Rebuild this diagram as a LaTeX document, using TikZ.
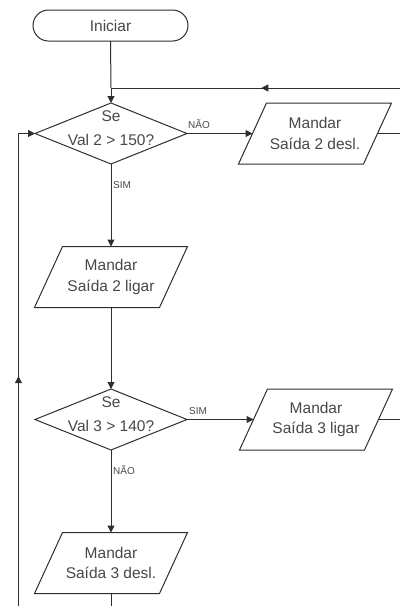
\documentclass[tikz,border=0pt]{standalone}
\usepackage{fontspec}
\setmainfont{Liberation Sans}
\usetikzlibrary{shapes.geometric,arrows.meta,decorations.markings,calc}
\definecolor{linec}{HTML}{2E2E2E}
\definecolor{textc}{HTML}{474747}
\newcommand\ioshape[4]{%
  \node[txt] (#1) at (#2,#3) {#4};
  \draw[plain] ($(#1)+(-48.5,-30.5)$) -- ($(#1)+(76.5,-30.5)$) -- ($(#1)+(48.5,30.5)$) -- ($(#1)+(-76.5,30.5)$) -- cycle;
  \coordinate (#1-w) at ($(#1)+(-62.5,0)$);
  \coordinate (#1-e) at ($(#1)+(62.5,0)$);
  \coordinate (#1-n) at ($(#1)+(0,-30.5)$);
  \coordinate (#1-s) at ($(#1)+(0,30.5)$);
}
\begin{document}
\begin{tikzpicture}[x=1pt,y=-1pt,
  line width=1pt,
  every node/.style={text=textc},
  tip/.tip={Triangle[length=7pt,width=7pt]},
  conn/.style={draw=linec,-tip},
  plain/.style={draw=linec},
  term/.style={draw=linec,rounded corners=15.5pt,minimum width=155pt,minimum height=31pt,inner sep=0,outer sep=0,font=\fontsize{15.5}{18}\selectfont},
  decis/.style={draw=linec,diamond,minimum width=152pt,minimum height=61pt,inner sep=0,outer sep=0},
  txt/.style={align=center,font=\fontsize{15.5}{20.5}\selectfont},
  dtxt/.style={align=center,font=\fontsize{15.5}{24}\selectfont},
  lbl/.style={font=\fontsize{10}{12}\selectfont,inner sep=0},
  midarrow/.style={postaction={decorate},decoration={markings,mark=at position #1 with {\arrow{tip}}}}
]
\useasboundingbox (0,0) rectangle (400,606);
% shapes
\node[term] (start) at (110.5,25.5) {Iniciar};
\node[decis] (d1) at (111,133.5) {};
\node[dtxt] (d1t) at (111,128.5) {Se\\Val 2 > 150?};
\ioshape{p1}{315}{133.5}{Mandar\\Saída 2 desl.}
\ioshape{p2}{111}{277}{Mandar\\Saída 2 ligar}
\node[decis] (d2) at (111,419.5) {};
\node[dtxt] (d2t) at (111,414.5) {Se\\Val 3 > 140?};
\ioshape{p3}{316}{419.5}{Mandar\\Saída 3 ligar}
\ioshape{p4}{111}{563}{Mandar\\Saída 3 desl.}
% free ends
\coordinate (rtop) at (400,88);
\coordinate (jtop) at (111,88);
\coordinate (r1) at (400,133.5);
\coordinate (r2) at (400,419.5);
\coordinate (bot) at (111,606);
\coordinate (lbot) at (18.5,606);
% connectors
\draw[plain] (start.south) -- (jtop);
\draw[conn] (jtop) -- (d1.north);
\draw[plain,midarrow=0.48] (rtop) -- (jtop);
\draw[conn] (d1.east) -- (p1-w);
\draw[plain] (p1-e) -- (r1);
\draw[conn] (d1.south) -- (p2-n);
\draw[conn] (p2-s) -- (d2.north);
\draw[conn] (d2.east) -- (p3-w);
\draw[plain] (p3-e) -- (r2);
\draw[conn] (d2.south) -- (p4-n);
\draw[plain] (p4-s) -- (bot);
\draw[conn,midarrow=0.47] (lbot) |- (d1.west);
% labels
\node[lbl] (l1) at (199,124) {NÃO};
\node[lbl] (l2) at (122,185) {SIM};
\node[lbl] (l3) at (198,411) {SIM};
\node[lbl] (l4) at (124,470) {NÃO};
\end{tikzpicture}
\end{document}
